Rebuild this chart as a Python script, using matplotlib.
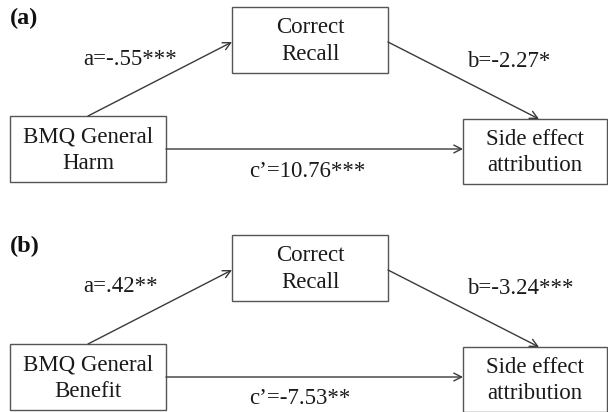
#!/usr/bin/env python3
"""
Mediation model diagrams: BMQ General Harm / Benefit -> Correct Recall -> Side effect attribution.
"""

import matplotlib.pyplot as plt
from matplotlib.patches import Rectangle

# Diagram content
panel_labels = ['(a)', '(b)']
predictors = ['BMQ General\nHarm', 'BMQ General\nBenefit']
mediator = 'Correct\nRecall'
outcome = 'Side effect\nattribution'
a_paths = ['a=-.55***', 'a=.42**']
b_paths = ['b=-2.27*', 'b=-3.24***']
c_paths = ['c\u2019=10.76***', 'c\u2019=-7.53**']

# Layout in pixel units (y grows downwards)
W, H = 608, 412
panel_offset = [0, 228]
box_med = (232, 7, 156, 66)     # x, y, w, h
box_pred = (10, 116, 156, 66)
box_out = (463, 119, 144, 65)

line_col = '#3a3a3a'
text_col = '#1a1a1a'
fs = 16.5

plt.rcParams['font.family'] = ['Liberation Serif', 'DejaVu Serif']

fig = plt.figure(figsize=(W / 100, H / 100), dpi=100)
ax = fig.add_axes([0, 0, 1, 1])
ax.set_xlim(0, W)
ax.set_ylim(H, 0)
ax.axis('off')


def draw_box(x, y, w, h, label):
    ax.add_patch(Rectangle((x, y), w, h, fill=False, edgecolor='#555555', linewidth=1.0))
    ax.text(x + w / 2, y + h / 2 + 1, label, ha='center', va='center',
            fontsize=fs, color=text_col, linespacing=1.32)


def arrow(x0, y0, x1, y1):
    ax.annotate('', xy=(x1, y1), xytext=(x0, y0),
                arrowprops=dict(arrowstyle='->,head_length=0.55,head_width=0.28',
                                color=line_col, lw=1.0, shrinkA=0, shrinkB=0))


for i in range(2):
    dy = panel_offset[i]
    ax.text(10, 18 + dy, panel_labels[i], ha='left', va='center',
            fontsize=17.5, fontweight='bold', color='#111111')

    mx, my, mw, mh = box_med
    px, py, pw, ph = box_pred
    ox, oy, ow, oh = box_out
    draw_box(mx, my + dy, mw, mh, mediator)
    draw_box(px, py + dy, pw, ph, predictors[i])
    draw_box(ox, oy + dy, ow, oh, outcome)

    # a path: predictor -> mediator
    arrow(88, py + dy, mx, 42 + dy)
    # b path: mediator -> outcome
    arrow(mx + mw, 42 + dy, 539, oy + dy)
    # c' path: predictor -> outcome
    arrow(px + pw, 149 + dy, ox, 149 + dy)

    ax.text(83, 59 + dy, a_paths[i], ha='left', va='center', fontsize=fs, color=text_col)
    ax.text(467, 61 + dy, b_paths[i], ha='left', va='center', fontsize=fs, color=text_col)
    ax.text(249, 171 + dy, c_paths[i], ha='left', va='center', fontsize=fs, color=text_col)

plt.savefig('out.png', dpi=100)
